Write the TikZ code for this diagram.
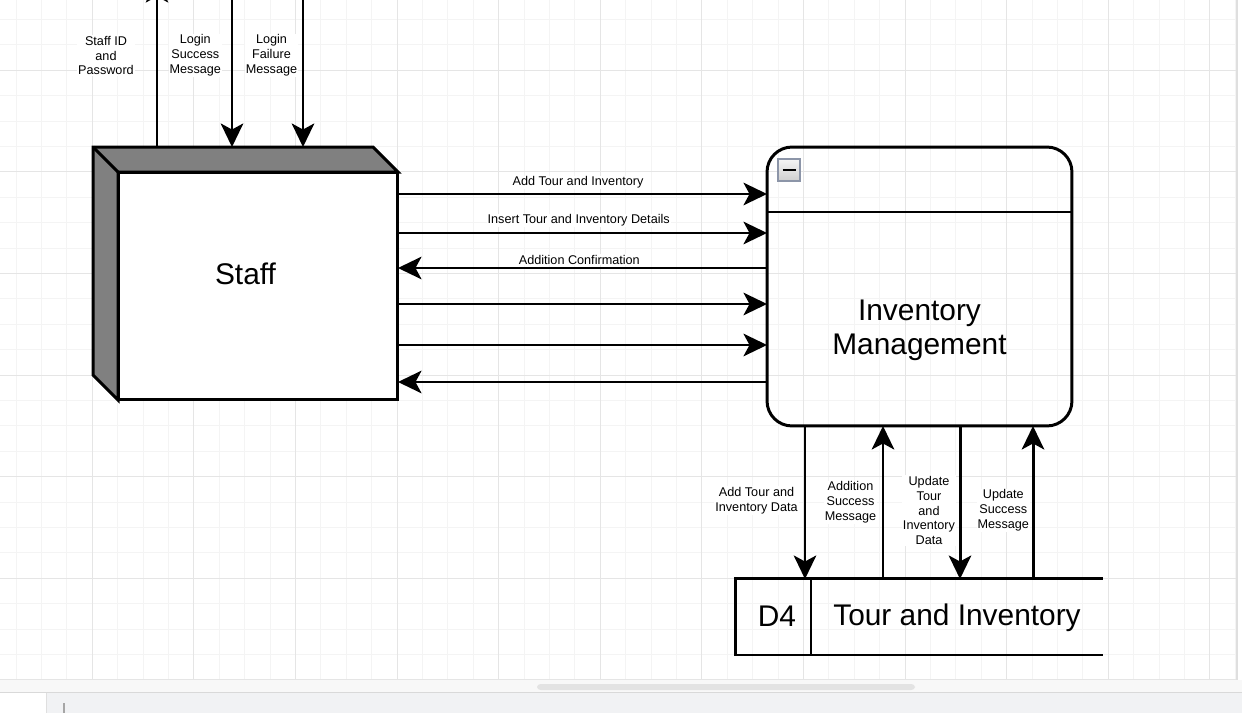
\documentclass[tikz,border=0pt]{standalone}
\usepackage{fontspec}
\setmainfont{Liberation Sans}
\usetikzlibrary{shapes,arrows.meta}
\usetikzlibrary{calc}
\definecolor{sidegray}{RGB}{128,128,128}
\definecolor{gminor}{RGB}{244,244,244}
\definecolor{gmajor}{RGB}{229,229,229}
\definecolor{iconedge}{RGB}{140,149,168}
\definecolor{barbg}{RGB}{248,248,248}
\definecolor{tabbg}{RGB}{241,242,244}

\begin{document}
\begin{tikzpicture}[x=0.02cm,y=-0.02cm]

\tikzstyle{big-b} = [outer sep=0, inner sep=0, align=center, font=\fontsize{17pt}{19.6pt}\selectfont]
\tikzstyle{line-b} = [draw=black, line width=1.7pt]
\tikzstyle{flow} = [line width=1.7pt, -{Stealth[length=0.47cm,width=0.45cm,inset=0.12cm]}]
\tikzstyle{lbl} = [fill=white, inner sep=0.5pt, align=center, font=\fontsize{7.2pt}{8.5pt}\selectfont]
\tikzstyle{minor-line} = [draw=gminor, line width=0.6pt]
\tikzstyle{major-line} = [draw=gmajor, line width=0.6pt]

\useasboundingbox (0,0) rectangle (1242,713);

\begin{scope}
\clip (0,0) rectangle (1236,680);
\fill[white] (0,0) rectangle (1236,680);

% grid
\foreach \k in {0,...,48} \draw[minor-line] ({16.1+25.4*\k},0) -- ({16.1+25.4*\k},680);
\foreach \k in {0,...,26} \draw[minor-line] (0,{19.5+25.4*\k}) -- (1236,{19.5+25.4*\k});
\foreach \k in {0,...,11} \draw[major-line] ({92.3+101.6*\k},0) -- ({92.3+101.6*\k},680);
\foreach \k in {0,...,6} \draw[major-line] (0,{70.3+101.6*\k}) -- (1236,{70.3+101.6*\k});

% Staff (3D box)
\node[big-b, minimum width=6.1cm, minimum height=5.06cm] (staff) at (245.5,273.5) {};
\draw[line-b, fill=sidegray, line join=miter] (staff.north west) -- ([shift={(-25,0)}]staff.north east) -- ([shift={(0,25)}]staff.north east) -- ([shift={(25,25)}]staff.north west) -- ([shift={(25,0)}]staff.south west) -- ([shift={(0,-25)}]staff.south west) -- cycle;
\draw[line-b, fill=white] ([shift={(25,25)}]staff.north west) rectangle (staff.south east);
\draw[line-b] (staff.north west) -- ([shift={(25,25)}]staff.north west);
\node[big-b] (staffname) at (staff.center) {Staff};

% Inventory Management process
\node[line-b, rounded corners=0.5cm, minimum width=6.1cm, minimum height=5.58cm, outer sep=0] (im) at (919.5,286.5) {};
\draw[line-b] (im.west |- 0,212) -- (im.east |- 0,212);
\node[big-b] (imname) at (919.5,330.5) {Inventory\\Management};
\node[draw=iconedge, line width=1pt, top color=gray!8, bottom color=gray!38, minimum size=0.44cm, inner sep=0, outer sep=0] (collapse) at (789,170) {};
\draw[line width=1.3pt] ([xshift=-0.13cm]collapse.center) -- ([xshift=0.13cm]collapse.center);

% D4 store
\node[line-b, big-b, minimum width=1.52cm, minimum height=1.54cm] (d4) at (773,616.5) {\hspace*{0.16cm}D4};
\node[big-b, minimum width=5.84cm, minimum height=1.54cm] (storename) at (957,617.5) {Tour and Inventory};
\draw[line-b] (d4.north east -| storename.west) -- (d4.north east -| storename.east);
\draw[line-b] (d4.south east -| storename.west) -- (d4.south east -| storename.east);

% login flows
\node[lbl] (idlbl) at (106,55.5) {Staff ID\\and\\Password};
\node[lbl] (oklbl) at (195.3,55.5) {Login\\Success\\Message};
\node[lbl] (faillbl) at (271.5,55.5) {Login\\Failure\\Message};
\coordinate (idout) at (157,-21);
\coordinate (okin) at (232,-21);
\coordinate (failin) at (303,-21);
\draw[flow] (staff.north -| idout) -- (idout);
\draw[flow] (okin) -- (staff.north -| okin);
\draw[flow] (failin) -- (staff.north -| failin);

% staff <-> inventory management
\node[lbl] (addlbl) at (578,182.5) {Add Tour and Inventory};
\node[lbl] (insertlbl) at (578.7,220.5) {Insert Tour and Inventory Details};
\node[lbl] (confirmlbl) at (579.3,259.5) {Addition Confirmation};
\draw[flow] (staff.east |- 0,194) -- (im.west |- 0,194);
\draw[flow] (staff.east |- 0,233) -- (im.west |- 0,233);
\draw[flow] (im.west |- 0,268) -- (staff.east |- 0,268);
\draw[flow] (staff.east |- 0,304) -- (im.west |- 0,304);
\draw[flow] (staff.east |- 0,345) -- (im.west |- 0,345);
\draw[flow] (im.west |- 0,382) -- (staff.east |- 0,382);

% inventory management <-> D4
\node[lbl] (adddatalbl) at (756.5,500.5) {Add Tour and\\Inventory Data};
\node[lbl] (addoklbl) at (850.5,502.5) {Addition\\Success\\Message};
\node[lbl] (updlbl) at (929,510.5) {Update\\Tour\\and\\Inventory\\Data};
\node[lbl] (updoklbl) at (1003.3,510.5) {Update\\Success\\Message};
\draw[flow] (im.south -| 805,0) -- (storename.north -| 805,0);
\draw[flow] (storename.north -| 883,0) -- (im.south -| 883,0);
\draw[flow] (im.south -| 960,0) -- (storename.north -| 960,0);
\draw[flow] (storename.north -| 1033,0) -- (im.south -| 1033,0);
\end{scope}

% editor bars
\fill[barbg] (0,680) rectangle (1242,692);
\fill[gray!22, rounded corners=2pt] (537,684) rectangle (915,690);
\fill[tabbg] (0,692) rectangle (1242,713);
\draw[gray!30] (0,692) -- (1242,692);
\fill[white] (0,693) rectangle (46,713);
\draw[gray!25] (46,693) -- (46,713);
\draw[gray!70, line width=0.8pt] (64,703) -- (64,713);
\fill[white] (1236,0) rectangle (1242,680);
\draw[gray!25, line width=1pt] (1237,0) -- (1237,680);

\end{tikzpicture}
\end{document}
